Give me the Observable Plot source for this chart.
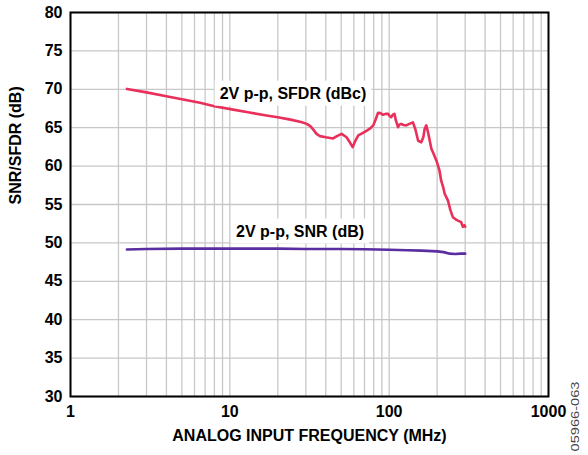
<!DOCTYPE html>
<html>
<head>
<meta charset="utf-8">
<script src="https://cdn.jsdelivr.net/npm/d3@7"></script>
<script src="https://cdn.jsdelivr.net/npm/@observablehq/plot@0.6"></script>
<style>
  html, body { margin: 0; padding: 0; background: #fff; overflow: hidden; }
  #chart svg { display: block; }
</style>
</head>
<body>
<div id="chart"></div>
<script>
const sfdrFreq = [2.26, 3, 4, 5, 6.5, 8, 10.5, 13, 17, 20, 24, 28, 30.4, 32, 33.4, 35, 36.8, 40, 44.5, 47, 50.3, 54, 57, 59, 61, 64, 68, 72, 76, 79.4, 82, 85.2, 88, 91.6, 95, 98.4, 101, 103, 105.5, 108, 110, 113.7, 116, 119, 123, 128, 134, 141, 146, 152, 159, 164, 167, 171, 174, 177, 184, 190, 198, 203, 207, 212, 218, 223, 234, 242, 251, 260, 270, 283, 290, 297, 300];
const sfdrDb   = [70.05, 69.6, 69.1, 68.7, 68.25, 67.8, 67.35, 67.0, 66.6, 66.35, 66.05, 65.75, 65.5, 65.2, 64.75, 64.2, 63.9, 63.75, 63.6, 63.9, 64.2, 63.76, 63.0, 62.46, 63.2, 64.0, 64.3, 64.6, 64.9, 65.3, 66.0, 66.94, 66.9, 66.68, 66.8, 66.8, 66.5, 66.37, 66.7, 66.8, 66.0, 65.07, 65.4, 65.5, 65.35, 65.3, 65.5, 65.7, 64.8, 63.3, 63.1, 63.8, 64.85, 65.3, 64.7, 64.0, 62.25, 61.6, 60.7, 60.0, 59.4, 58.1, 57.3, 56.4, 55.5, 54.3, 53.35, 53.1, 52.9, 52.7, 52.1, 52.3, 52.1];
const snrFreq  = [2.26, 3, 5, 10, 20, 30, 50, 70, 100, 130, 160, 200, 220, 240, 260, 280, 300];
const snrDb    = [49.15, 49.2, 49.25, 49.25, 49.25, 49.2, 49.2, 49.18, 49.1, 49.05, 49.0, 48.9, 48.8, 48.6, 48.55, 48.6, 48.6];
const xTicks = [1, 10, 100, 1000];
const xMinor = [2,3,4,5,6,7,8,9,20,30,40,50,60,70,80,90,200,300,400,500,600,700,800,900];
const yTicks = [30, 35, 40, 45, 50, 55, 60, 65, 70, 75, 80];
const curveLabels = ["2V p-p, SFDR (dBc)", "2V p-p, SNR (dB)"];
const labelFreq = [24.9, 27.6];
const labelDb = [69.45, 51.5];

const sfdr = sfdrFreq.map((f, i) => ({f, v: sfdrDb[i]}));
const snr = snrFreq.map((f, i) => ({f, v: snrDb[i]}));
const labels = curveLabels.map((t, i) => ({t, f: labelFreq[i], v: labelDb[i]}));

const plot = Plot.plot({
  width: 588,
  height: 455,
  marginLeft: 70,
  marginRight: 40,
  marginTop: 12,
  marginBottom: 59,
  style: {fontFamily: "'Liberation Sans', Arial, sans-serif", fontSize: "16px", fontWeight: "bold", color: "#000", background: "#fff"},
  x: {type: "log", domain: [1, 1000], ticks: xTicks, tickFormat: d => String(d), tickSize: 0, tickPadding: 9, label: null},
  y: {domain: [30, 80], ticks: yTicks, tickSize: 0, tickPadding: 8, label: null},
  marks: [
    Plot.ruleX(xMinor.concat(xTicks), {stroke: "#c8c8c8", strokeWidth: 1.3}),
    Plot.ruleY(yTicks, {stroke: "#c8c8c8", strokeWidth: 1.3}),
    Plot.line(sfdr, {x: "f", y: "v", stroke: "#e8305a", strokeWidth: 2.6, curve: "linear"}),
    Plot.line(snr, {x: "f", y: "v", stroke: "#5a2ea0", strokeWidth: 2.6, curve: "linear"}),
    Plot.frame({stroke: "#000", strokeWidth: 2}),
    Plot.text(labels, {x: "f", y: "v", text: "t", fontSize: 16, fontWeight: "bold", fill: "#000"}),
    Plot.text(["ANALOG INPUT FREQUENCY (MHz)"], {frameAnchor: "bottom", dy: 44, fontSize: 16, fontWeight: "bold", fill: "#000"}),
    Plot.text(["SNR/SFDR (dB)"], {frameAnchor: "left", dx: -55, rotate: -90, fontSize: 16, fontWeight: "bold", fill: "#000"}),
    Plot.text(["05966-063"], {frameAnchor: "bottom-right", dx: 30, dy: 55, rotate: -90, textAnchor: "start", fontSize: 11, fontWeight: "normal", fill: "#444"})
  ]
});
document.getElementById("chart").appendChild(plot);

d3.select(plot).selectAll("text").each(function() {
  if (curveLabels.includes(this.textContent)) {
    const b = this.getBBox();
    const r = document.createElementNS("http://www.w3.org/2000/svg", "rect");
    r.setAttribute("x", b.x - 5);
    r.setAttribute("y", b.y - 4);
    r.setAttribute("width", b.width + 10);
    r.setAttribute("height", b.height + 8);
    r.setAttribute("fill", "#fff");
    const tr = this.getAttribute("transform");
    if (tr) r.setAttribute("transform", tr);
    this.parentNode.insertBefore(r, this);
  } else if (this.textContent === "05966-063") {
    this.setAttribute("textLength", 70);
    this.setAttribute("lengthAdjust", "spacingAndGlyphs");
  }
});
</script>
</body>
</html>
